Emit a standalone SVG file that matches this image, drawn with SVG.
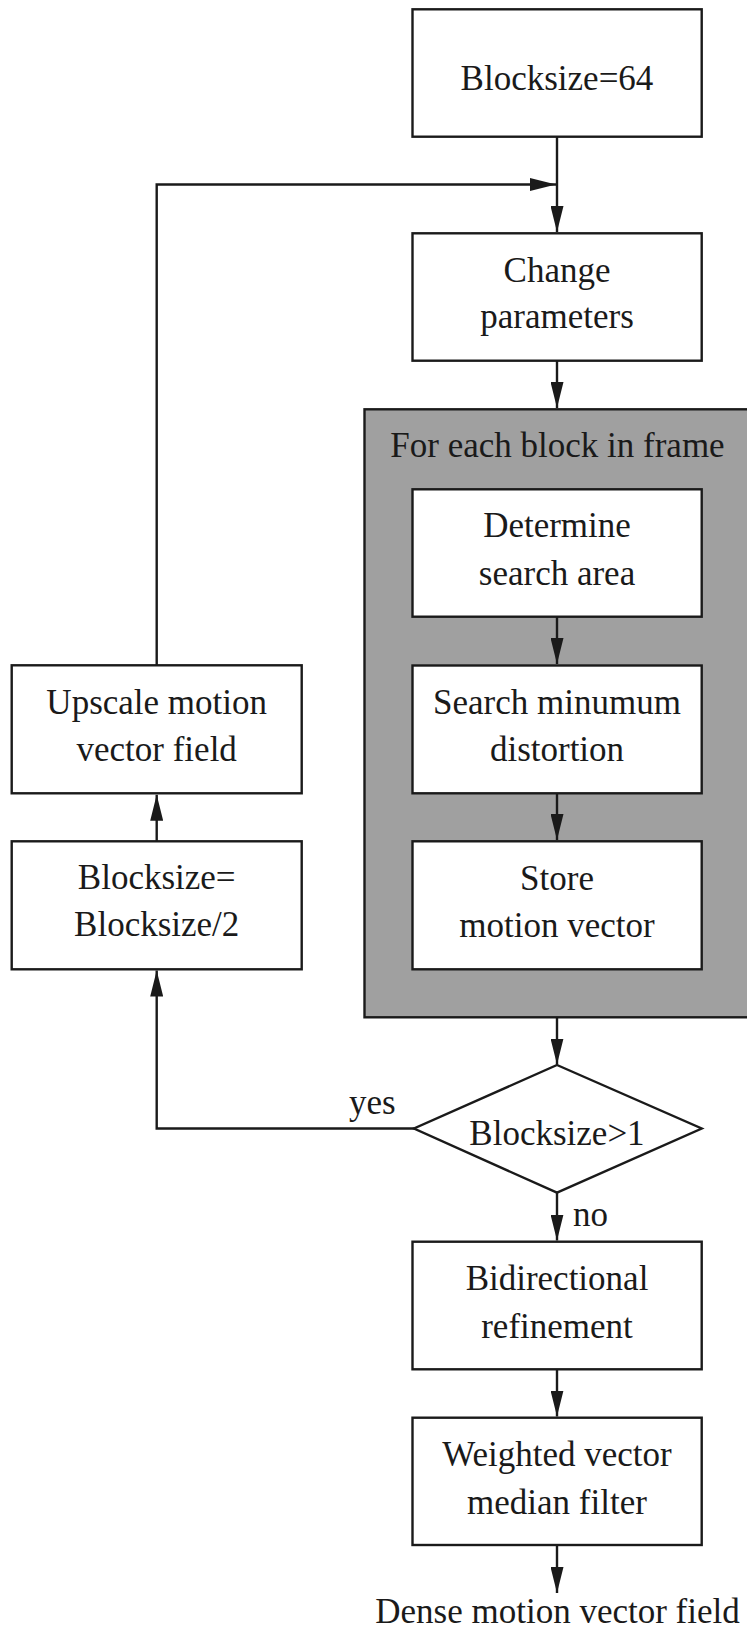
<svg xmlns="http://www.w3.org/2000/svg" width="747" height="1632" viewBox="0 0 747 1632">
  <style>
    .box { fill: #ffffff; stroke: #1a1a1a; stroke-width: 2.4; }
    .group { fill: #a0a0a0; stroke: #1a1a1a; stroke-width: 2.4; }
    .line { fill: none; stroke: #1a1a1a; stroke-width: 2.4; }
    .arr { marker-end: url(#ah); }
    text { font-family: "Liberation Serif", "Times New Roman", serif; font-size: 35px; fill: #1a1a1a; text-anchor: middle; }
    .lbl { text-anchor: start; }
  </style>
  <defs>
    <marker id="ah" markerUnits="userSpaceOnUse" markerWidth="26" markerHeight="13" refX="26" refY="6.5" orient="auto">
      <path d="M0,0 L26,6.5 L0,13 Z" fill="#1a1a1a"/>
    </marker>
  </defs>
  <rect width="747" height="1632" fill="#ffffff"/>

  <g id="group-foreach">
    <rect class="group" x="364.5" y="409.3" width="400" height="608"/>
    <text x="557.5" y="457.3">For each block in frame</text>
  </g>

  <g id="connectors">
    <path class="line arr" d="M557,136.7 V232"/>
    <path class="line arr" d="M156.7,665 V184.5 H556"/>
    <path class="line arr" d="M557,360.7 V408"/>
    <path class="line arr" d="M557,616.7 V664"/>
    <path class="line arr" d="M557,793.3 V840"/>
    <path class="line arr" d="M557,1017.3 V1064.5"/>
    <path class="line arr" d="M414,1128.5 H156.7 V970.5"/>
    <path class="line arr" d="M156.7,841 V794.8"/>
    <path class="line arr" d="M557,1192.7 V1240.5"/>
    <path class="line arr" d="M557,1369.3 V1416.5"/>
    <path class="line arr" d="M557,1545 V1593"/>
  </g>

  <g id="n-blocksize64">
    <rect class="box" x="412.5" y="9.3" width="289.2" height="127.4"/>
    <text x="557" y="89.5">Blocksize=64</text>
  </g>

  <g id="n-change">
    <rect class="box" x="412.5" y="233.3" width="289.2" height="127.4"/>
    <text x="557" y="281.5">Change</text>
    <text x="557" y="328.3">parameters</text>
  </g>

  <g id="n-determine">
    <rect class="box" x="412.5" y="489.3" width="289.2" height="127.4"/>
    <text x="557" y="537.3">Determine</text>
    <text x="557" y="585">search area</text>
  </g>

  <g id="n-search">
    <rect class="box" x="412.5" y="665.5" width="289.2" height="127.8"/>
    <text x="557" y="714">Search minumum</text>
    <text x="557" y="761">distortion</text>
  </g>

  <g id="n-store">
    <rect class="box" x="412.5" y="841.3" width="289.2" height="128"/>
    <text x="557" y="889.5">Store</text>
    <text x="557" y="937">motion vector</text>
  </g>

  <g id="n-upscale">
    <rect class="box" x="11.7" y="665.3" width="290" height="128"/>
    <text x="156.7" y="714">Upscale motion</text>
    <text x="156.7" y="761">vector field</text>
  </g>

  <g id="n-halve">
    <rect class="box" x="11.7" y="841.3" width="290" height="128"/>
    <text x="156.7" y="889">Blocksize=</text>
    <text x="156.7" y="936">Blocksize/2</text>
  </g>

  <g id="n-decision">
    <polygon class="box" points="557,1065 701.7,1128.5 557,1192.7 414,1128.5"/>
    <text x="557" y="1145">Blocksize&gt;1</text>
  </g>

  <g id="labels">
    <text class="lbl" x="349" y="1114">yes</text>
    <text class="lbl" x="573" y="1226">no</text>
  </g>

  <g id="n-bidir">
    <rect class="box" x="412.5" y="1241.7" width="289.2" height="127.6"/>
    <text x="557" y="1290">Bidirectional</text>
    <text x="557" y="1337.7">refinement</text>
  </g>

  <g id="n-wvmf">
    <rect class="box" x="412.5" y="1417.7" width="289.2" height="127.3"/>
    <text x="557" y="1466">Weighted vector</text>
    <text x="557" y="1514">median filter</text>
  </g>

  <g id="n-output">
    <text x="557.5" y="1622.7">Dense motion vector field</text>
  </g>
</svg>
